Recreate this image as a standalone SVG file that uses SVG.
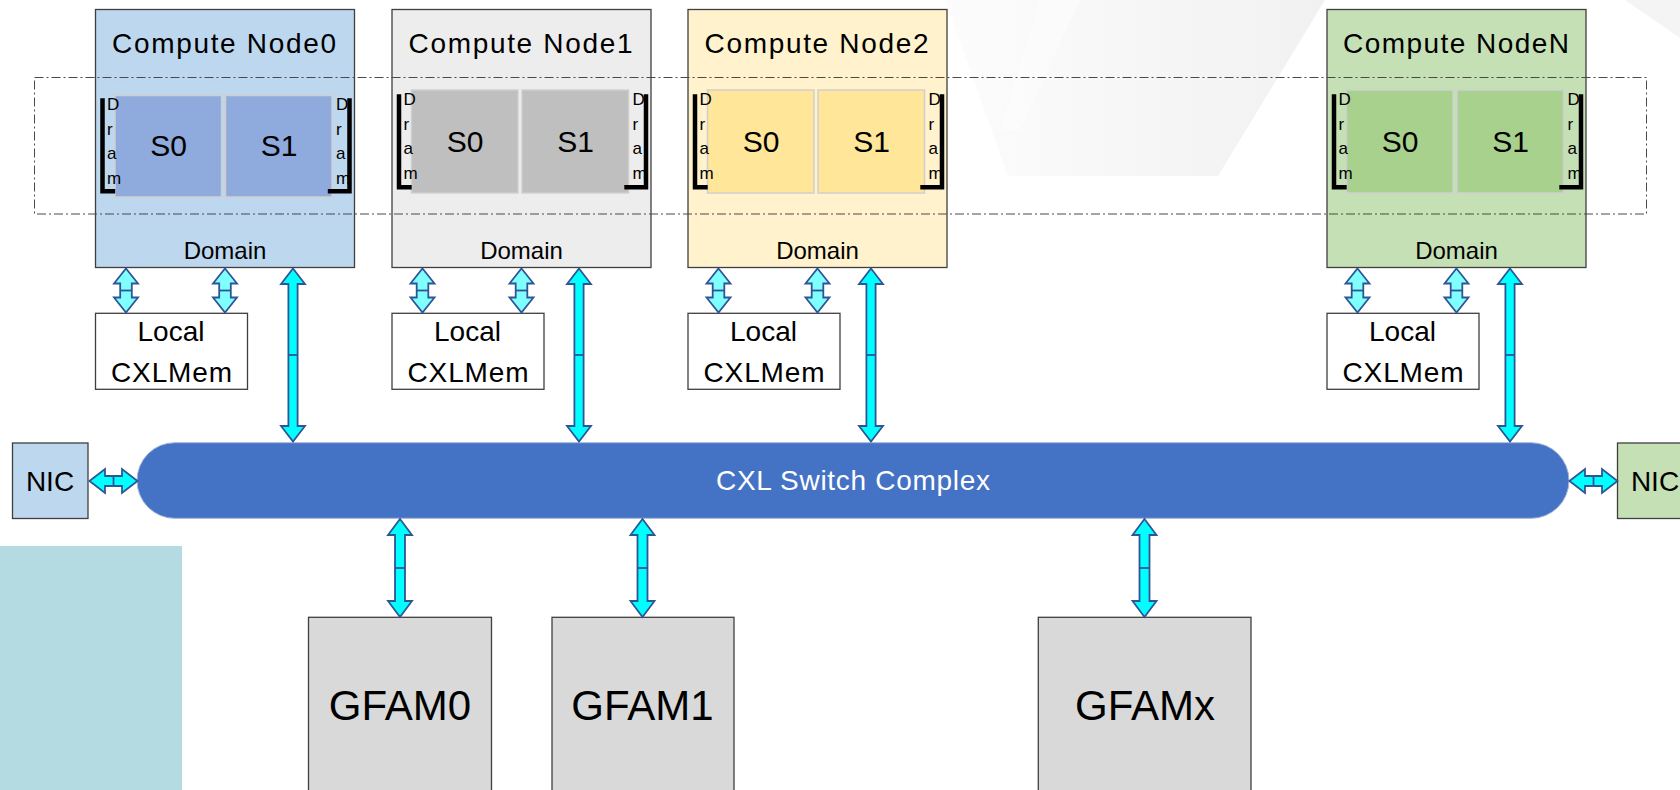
<svg xmlns="http://www.w3.org/2000/svg" xmlns:xlink="http://www.w3.org/1999/xlink" width="1680" height="790" viewBox="0 0 1680 790">
  <defs>
    <style>
      text { font-family: "Liberation Sans", Arial, sans-serif; fill: #000; }
      .node { stroke: #3f3f3f; stroke-width: 1.3; }
      .sock { stroke: #cfcfcf; stroke-width: 1.5; }
      .title { font-size: 28px; text-anchor: middle; }
      .sock-lbl { font-size: 30px; text-anchor: middle; }
      .dram { font-size: 17px; }
      .domain { font-size: 24px; text-anchor: middle; }
      .bracket { fill: none; stroke: #000; stroke-width: 4.5; stroke-linejoin: miter; }
      .mem { fill: #fff; stroke: #3f3f3f; stroke-width: 1.3; }
      .mem-lbl { font-size: 28px; text-anchor: middle; }
      .gfam { fill: #d9d9d9; stroke: #3f3f3f; stroke-width: 1.3; }
      .gfam-lbl { font-size: 42px; text-anchor: middle; }
      .nic-lbl { font-size: 28px; text-anchor: middle; }
    </style>
    <linearGradient id="sheen" x1="0" y1="0" x2="1" y2="0">
      <stop offset="0" stop-color="#fcfcfc"/>
      <stop offset="0.55" stop-color="#f6f6f6"/>
      <stop offset="1" stop-color="#f1f1f1"/>
    </linearGradient>
    <!-- double-headed arrows, drawn from the top (or left) tip -->
    <g id="arrowShort" stroke="#2f5597" stroke-width="1.8" stroke-linejoin="miter">
      <path d="M0,0 L12,15 L5.8,15 L5.8,29 L12,29 L0,44 L-12,29 L-5.8,29 L-5.8,15 L-12,15 Z"/>
      <path d="M-5.8,22 H5.8" fill="none"/>
    </g>
    <g id="arrowLong" stroke="#2f5597" stroke-width="1.8" stroke-linejoin="miter">
      <path d="M0,0 L12,15.5 L4.6,15.5 L4.6,157.5 L12,157.5 L0,173 L-12,157.5 L-4.6,157.5 L-4.6,15.5 L-12,15.5 Z"/>
      <path d="M-4.6,86.5 H4.6" fill="none"/>
    </g>
    <g id="arrowPool" stroke="#2f5597" stroke-width="1.8" stroke-linejoin="miter">
      <path d="M0,0 L12,16 L5,16 L5,82 L12,82 L0,98 L-12,82 L-5,82 L-5,16 L-12,16 Z"/>
      <path d="M-5,49 H5" fill="none"/>
    </g>
    <g id="arrowSide" stroke="#2f5597" stroke-width="1.8" stroke-linejoin="miter">
      <path d="M0,0 L15.5,-12 L15.5,-5 L32.5,-5 L32.5,-12 L48,0 L32.5,12 L32.5,5 L15.5,5 L15.5,12 Z"/>
      <path d="M24,-5 V5" fill="none"/>
    </g>
  </defs>

  <rect width="1680" height="790" fill="#ffffff"/>

  <!-- faint backdrop sheen -->
  <polygon points="945,0 1325,0 1218,176 1008,176" fill="url(#sheen)"/>
  <polygon points="1040,0 1080,0 1020,130 1000,130" fill="#ffffff" opacity="0.4"/>
  <polygon points="1625,0 1680,0 1680,38" fill="#f4f4f4"/>

  <!-- side panel -->
  <rect x="0" y="546" width="182" height="244" fill="#b4dbe1"/>

  <!-- Compute Node0 -->
  <g id="compute-node0">
    <rect class="node" x="95.5" y="9.5" width="259" height="258" fill="#bdd7ee"/>
    <text class="title" x="224" y="53" textLength="224">Compute Node0</text>
    <rect class="sock" x="115" y="95.5" width="106.5" height="101.5" fill="#8faadc"/>
    <rect class="sock" x="225.5" y="95.5" width="106.5" height="101.5" fill="#8faadc"/>
    <text class="sock-lbl" x="168.5" y="156">S0</text>
    <text class="sock-lbl" x="279" y="156">S1</text>
    <path class="bracket" d="M102.5,98.3 V191.2 H115.2"/>
    <path class="bracket" d="M349.5,98.3 V191.2 H327.8"/>
    <text class="dram" x="107"><tspan x="107" y="110">D</tspan><tspan x="107" y="134.5">r</tspan><tspan x="107" y="159">a</tspan><tspan x="107" y="183.5">m</tspan></text>
    <text class="dram" x="336"><tspan x="336" y="110">D</tspan><tspan x="336" y="134.5">r</tspan><tspan x="336" y="159">a</tspan><tspan x="336" y="183.5">m</tspan></text>
    <text class="domain" x="225" y="258.5">Domain</text>
  </g>

  <!-- Compute Node1 -->
  <g id="compute-node1">
    <rect class="node" x="392" y="9.5" width="259" height="258" fill="#ededed"/>
    <text class="title" x="520.5" y="53" textLength="224">Compute Node1</text>
    <rect class="sock" x="411.5" y="90" width="106.5" height="103" fill="#bfbfbf"/>
    <rect class="sock" x="522" y="90" width="106.5" height="103" fill="#bfbfbf"/>
    <text class="sock-lbl" x="465" y="151.5">S0</text>
    <text class="sock-lbl" x="575.5" y="151.5">S1</text>
    <path class="bracket" d="M399,94.3 V187.2 H411.7"/>
    <path class="bracket" d="M646,94.3 V187.2 H624.3"/>
    <text class="dram" x="403.5"><tspan x="403.5" y="105">D</tspan><tspan x="403.5" y="129.5">r</tspan><tspan x="403.5" y="154">a</tspan><tspan x="403.5" y="178.5">m</tspan></text>
    <text class="dram" x="632.5"><tspan x="632.5" y="105">D</tspan><tspan x="632.5" y="129.5">r</tspan><tspan x="632.5" y="154">a</tspan><tspan x="632.5" y="178.5">m</tspan></text>
    <text class="domain" x="521.5" y="258.5">Domain</text>
  </g>

  <!-- Compute Node2 -->
  <g id="compute-node2">
    <rect class="node" x="688" y="9.5" width="259" height="258" fill="#fff2cc"/>
    <text class="title" x="816.5" y="53" textLength="224">Compute Node2</text>
    <rect class="sock" x="707.5" y="90" width="106.5" height="103" fill="#ffe699"/>
    <rect class="sock" x="818" y="90" width="106.5" height="103" fill="#ffe699"/>
    <text class="sock-lbl" x="761" y="151.5">S0</text>
    <text class="sock-lbl" x="871.5" y="151.5">S1</text>
    <path class="bracket" d="M695,94.3 V187.2 H707.7"/>
    <path class="bracket" d="M942,94.3 V187.2 H920.3"/>
    <text class="dram" x="699.5"><tspan x="699.5" y="105">D</tspan><tspan x="699.5" y="129.5">r</tspan><tspan x="699.5" y="154">a</tspan><tspan x="699.5" y="178.5">m</tspan></text>
    <text class="dram" x="928.5"><tspan x="928.5" y="105">D</tspan><tspan x="928.5" y="129.5">r</tspan><tspan x="928.5" y="154">a</tspan><tspan x="928.5" y="178.5">m</tspan></text>
    <text class="domain" x="817.5" y="258.5">Domain</text>
  </g>

  <!-- Compute NodeN -->
  <g id="compute-nodeN">
    <rect class="node" x="1327" y="9.5" width="259" height="258" fill="#c5e0b4"/>
    <text class="title" x="1456" y="53" textLength="226">Compute NodeN</text>
    <rect class="sock" x="1346.5" y="90" width="106.5" height="103" fill="#a9d18e"/>
    <rect class="sock" x="1457" y="90" width="106.5" height="103" fill="#a9d18e"/>
    <text class="sock-lbl" x="1400" y="151.5">S0</text>
    <text class="sock-lbl" x="1510.5" y="151.5">S1</text>
    <path class="bracket" d="M1334,94.3 V187.2 H1346.7"/>
    <path class="bracket" d="M1581,94.3 V187.2 H1559.3"/>
    <text class="dram" x="1338.5"><tspan x="1338.5" y="105">D</tspan><tspan x="1338.5" y="129.5">r</tspan><tspan x="1338.5" y="154">a</tspan><tspan x="1338.5" y="178.5">m</tspan></text>
    <text class="dram" x="1567.5"><tspan x="1567.5" y="105">D</tspan><tspan x="1567.5" y="129.5">r</tspan><tspan x="1567.5" y="154">a</tspan><tspan x="1567.5" y="178.5">m</tspan></text>
    <text class="domain" x="1456.5" y="258.5">Domain</text>
  </g>

  <!-- coherency domain outline across all nodes -->
  <rect id="domain-outline" x="34.5" y="77.5" width="1612" height="136.5" fill="none" stroke="#4a4a4a" stroke-width="1" stroke-dasharray="9 3 2 3"/>

  <!-- Local CXL memory per node -->
  <g id="local-mem0">
    <rect class="mem" x="95.5" y="313.3" width="152" height="76"/>
    <text class="mem-lbl" x="171" y="341">Local</text>
    <text class="mem-lbl" x="171.5" y="382" textLength="121">CXLMem</text>
  </g>
  <g id="local-mem1">
    <rect class="mem" x="392" y="313.3" width="152" height="76"/>
    <text class="mem-lbl" x="467.5" y="341">Local</text>
    <text class="mem-lbl" x="468" y="382" textLength="121">CXLMem</text>
  </g>
  <g id="local-mem2">
    <rect class="mem" x="688" y="313.3" width="152" height="76"/>
    <text class="mem-lbl" x="763.5" y="341">Local</text>
    <text class="mem-lbl" x="764" y="382" textLength="121">CXLMem</text>
  </g>
  <g id="local-memN">
    <rect class="mem" x="1327" y="313.3" width="152" height="76"/>
    <text class="mem-lbl" x="1402.5" y="341">Local</text>
    <text class="mem-lbl" x="1403" y="382" textLength="121">CXLMem</text>
  </g>

  <!-- switch fabric -->
  <g id="cxl-switch">
    <rect x="137" y="442.7" width="1432" height="75.6" rx="37.8" ry="37.8" fill="#4472c4" stroke="#a3b5da" stroke-width="1"/>
    <text x="853" y="490" font-size="28" text-anchor="middle" textLength="274" style="fill:#ffffff">CXL Switch Complex</text>
  </g>

  <!-- network interfaces -->
  <g id="nic-left">
    <rect x="12.5" y="443" width="75.5" height="75.5" fill="#bdd7ee" stroke="#3f3f3f" stroke-width="1.3"/>
    <text class="nic-lbl" x="50" y="491">NIC</text>
  </g>
  <g id="nic-right">
    <rect x="1617.5" y="443" width="75.5" height="75.5" fill="#c5e0b4" stroke="#3f3f3f" stroke-width="1.3"/>
    <text class="nic-lbl" x="1655" y="491">NIC</text>
  </g>

  <!-- global fabric-attached memory -->
  <g id="gfam0">
    <rect class="gfam" x="308.5" y="617.3" width="183" height="190"/>
    <text class="gfam-lbl" x="400" y="720">GFAM0</text>
  </g>
  <g id="gfam1">
    <rect class="gfam" x="552" y="617.3" width="182" height="190"/>
    <text class="gfam-lbl" x="642.5" y="720">GFAM1</text>
  </g>
  <g id="gfamx">
    <rect class="gfam" x="1038.3" y="617.3" width="212.7" height="190"/>
    <text class="gfam-lbl" x="1145" y="720">GFAMx</text>
  </g>

  <!-- connectors -->
  <g id="connectors">
    <!-- node to local memory -->
    <use xlink:href="#arrowShort" href="#arrowShort" x="126" y="268.5" fill="#80ffff"/>
    <use xlink:href="#arrowShort" href="#arrowShort" x="225" y="268.5" fill="#80ffff"/>
    <use xlink:href="#arrowShort" href="#arrowShort" x="422.5" y="268.5" fill="#80ffff"/>
    <use xlink:href="#arrowShort" href="#arrowShort" x="521.5" y="268.5" fill="#80ffff"/>
    <use xlink:href="#arrowShort" href="#arrowShort" x="718.5" y="268.5" fill="#80ffff"/>
    <use xlink:href="#arrowShort" href="#arrowShort" x="817.5" y="268.5" fill="#80ffff"/>
    <use xlink:href="#arrowShort" href="#arrowShort" x="1357.5" y="268.5" fill="#80ffff"/>
    <use xlink:href="#arrowShort" href="#arrowShort" x="1456.5" y="268.5" fill="#80ffff"/>
    <!-- node to switch -->
    <use xlink:href="#arrowLong" href="#arrowLong" x="293" y="268.5" fill="#00ffff"/>
    <use xlink:href="#arrowLong" href="#arrowLong" x="579" y="268.5" fill="#00ffff"/>
    <use xlink:href="#arrowLong" href="#arrowLong" x="871" y="268.5" fill="#00ffff"/>
    <use xlink:href="#arrowLong" href="#arrowLong" x="1510" y="268.5" fill="#00ffff"/>
    <!-- switch to GFAM -->
    <use xlink:href="#arrowPool" href="#arrowPool" x="400" y="519" fill="#00ffff"/>
    <use xlink:href="#arrowPool" href="#arrowPool" x="642.5" y="519" fill="#00ffff"/>
    <use xlink:href="#arrowPool" href="#arrowPool" x="1144.5" y="519" fill="#00ffff"/>
    <!-- switch to NICs -->
    <use xlink:href="#arrowSide" href="#arrowSide" x="89.5" y="481" fill="#00ffff"/>
    <use xlink:href="#arrowSide" href="#arrowSide" x="1569.5" y="481" fill="#00ffff"/>
  </g>
</svg>
